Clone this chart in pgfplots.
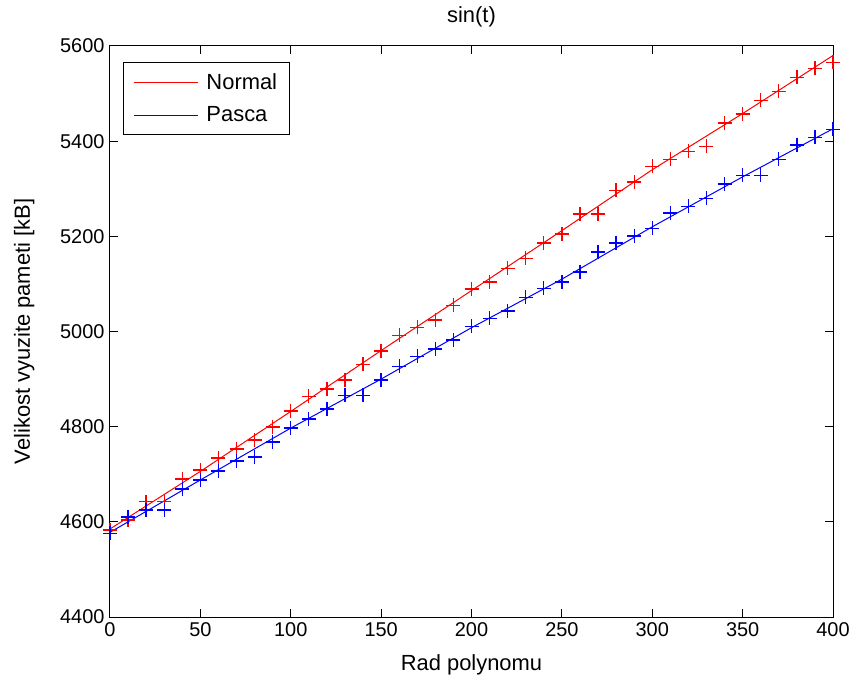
\documentclass[border=0pt]{standalone}
\usepackage{fontspec}
\setmainfont{Liberation Sans}
\usepackage{pgfplots}
\pgfplotsset{compat=1.18}

\begin{document}
\begin{tikzpicture}
\begin{axis}[
  scale only axis,
  width=723bp, height=571bp,
  xmin=0, xmax=400, ymin=4400, ymax=5600,
  xtick={0,50,...,400},
  ytick={4400,4600,...,5600},
  tick align=inside,
  major tick length=8bp,
  axis line style={line width=1bp},
  every tick/.style={black, line width=1bp},
  /pgf/number format/assume math mode=true,
  /pgf/number format/1000 sep={},
  tick label style={font=\fontsize{20}{22}\selectfont},
  xticklabel style={yshift=-2bp},
  yticklabel style={xshift=-2bp},
  title={sin(t)},
  title style={at={(0.5,1)}, anchor=base, yshift=18bp, font=\fontsize{22}{24}\selectfont},
  xlabel={Rad polynomu},
  xlabel style={at={(0.5,0)}, anchor=base, yshift=-53bp, font=\fontsize{22}{24}\selectfont},
  ylabel={Velikost vyuzite pameti [kB]},
  ylabel style={at={(0,0.5)}, anchor=base, yshift=80bp, font=\fontsize{22}{24}\selectfont},
  legend style={at={(13bp,555bp)}, anchor=north west, draw=black, line width=1bp,
    font=\fontsize{22}{26}\selectfont, inner xsep=10bp, inner ysep=9bp,
    row sep=12bp, cells={anchor=west}},
  legend cell align=left,
  legend image code/.code={\draw[#1, line width=1bp] (0bp,0bp) -- (64bp,0bp); \path (70bp,0bp);},
]
% fitted lines
\addplot[red, line width=1bp] coordinates {
  (0,4585)(50,4706)(100,4832)(150,4960)(200,5086)(250,5212)(300,5340)(350,5458)(400,5580)};
\addlegendentry{Normal}
\addplot[blue, line width=1bp] coordinates {
  (0,4578)(50,4688)(100,4797)(150,4900)(200,5008)(250,5110)(300,5220)(350,5325)(400,5426)};
\addlegendentry{Pasca}
% measured values
\addplot[red, only marks, mark=+, mark size=7bp, mark options={line width=1.3bp}, forget plot] coordinates {
  (0,4583)(10,4604)(20,4642)(30,4642)(40,4690)(50,4709)(60,4734)(70,4753)(80,4772)(90,4799)
  (100,4833)(110,4864)(120,4879)(130,4898)(140,4931)(150,4959)(160,4992)(170,5009)(180,5024)(190,5055)
  (200,5089)(210,5104)(220,5133)(230,5154)(240,5186)(250,5205)(260,5247)(270,5247)(280,5297)(290,5314)
  (300,5347)(310,5362)(320,5379)(330,5389)(340,5438)(350,5457)(360,5486)(370,5505)(380,5534)(390,5553)
  (400,5566)};
\addplot[blue, only marks, mark=+, mark size=7bp, mark options={line width=1.3bp}, forget plot] coordinates {
  (0,4576)(10,4610)(20,4625)(30,4625)(40,4669)(50,4688)(60,4707)(70,4728)(80,4736)(90,4768)
  (100,4797)(110,4816)(120,4837)(130,4866)(140,4866)(150,4898)(160,4927)(170,4948)(180,4963)(190,4982)
  (200,5011)(210,5028)(220,5043)(230,5072)(240,5091)(250,5104)(260,5125)(270,5167)(280,5186)(290,5201)
  (300,5217)(310,5249)(320,5263)(330,5280)(340,5310)(350,5328)(360,5328)(370,5362)(380,5392)(390,5408)
  (400,5425)};
\end{axis}
\pgfresetboundingbox
\path[use as bounding box] (-110bp,-65bp) rectangle (744bp,617bp);
\end{tikzpicture}
\end{document}
